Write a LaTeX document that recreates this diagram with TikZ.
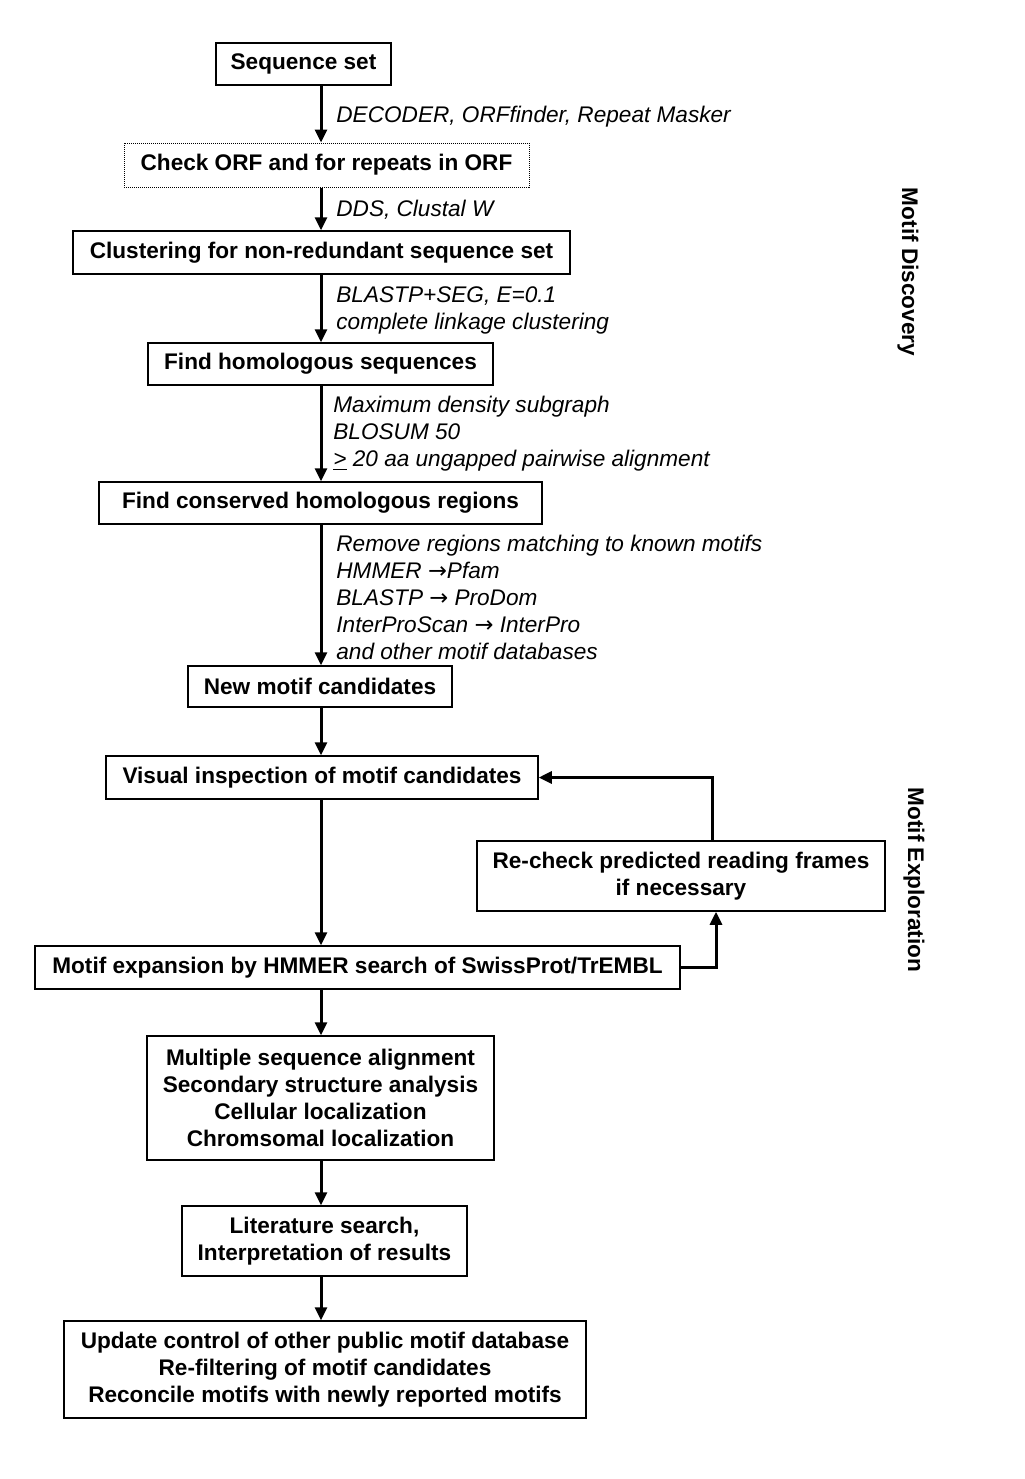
\documentclass[tikz,border=0pt]{standalone}
\usepackage{fontspec}
\setmainfont{Liberation Sans}
\newfontfamily\arrowfont{DejaVu Sans}
\newcommand{\rar}{{\arrowfont\itshape →}}
\usetikzlibrary{arrows.meta}
\begin{document}
\begin{tikzpicture}[x=0.5pt,y=-0.5pt,
 box/.style={draw,line width=0.75pt,inner sep=0pt,font=\fontsize{11.3}{13.5}\selectfont\bfseries,align=center},
 dotbox/.style={box,dash pattern=on 0.5pt off 0.5pt,line width=0.5pt},
 lbl/.style={font=\fontsize{11.3}{13.5}\selectfont\itshape,align=left,anchor=west,inner sep=0pt},
 flow/.style={line width=1.5pt,-{Triangle[length=6.5pt,width=6pt]}},
 side/.style={font=\fontsize{11.3}{12}\selectfont\bfseries,rotate=-90,inner sep=0pt}]
\fill[white] (0,0) rectangle (1024,1479);
\coordinate (ax) at (321,0);
\coordinate (fb1) at (716,0);
\coordinate (fb2) at (712,0);
\node[box,minimum width=87.5pt,minimum height=21pt] (n1) at (303.5,64) {Sequence set};
\node[dotbox,minimum width=202.5pt,minimum height=22pt] (n2) at (326.5,165) {Check ORF and for repeats in ORF};
\node[box,minimum width=248.5pt,minimum height=21.5pt] (n3) at (321.5,252.5) {Clustering for non-redundant sequence set};
\node[box,minimum width=172.5pt,minimum height=21pt] (n4) at (320.5,364) {Find homologous sequences};
\node[box,minimum width=221.5pt,minimum height=21pt] (n5) at (320.5,503) {Find conserved homologous regions};
\node[box,minimum width=132pt,minimum height=20.5pt] (n6) at (320,686.5) {New motif candidates};
\node[box,minimum width=216pt,minimum height=21.5pt] (n7) at (322,777.5) {Visual inspection of motif candidates};
\node[box,minimum width=204pt,minimum height=35pt] (n8) at (681,876) {Re-check predicted reading frames\\if necessary};
\node[box,minimum width=322.5pt,minimum height=21.5pt] (n9) at (357.5,967.5) {Motif expansion by HMMER search of SwissProt/TrEMBL};
\node[box,minimum width=173.5pt,minimum height=62pt] (n10) at (320.5,1098) {Multiple sequence alignment\\Secondary structure analysis\\Cellular localization\\Chromsomal localization};
\node[box,minimum width=142.5pt,minimum height=35pt] (n11) at (324.5,1241) {Literature search,\\Interpretation of results};
\node[box,minimum width=261pt,minimum height=48.5pt] (n12) at (325,1369.5) {Update control of other public motif database\\Re-filtering of motif candidates\\Reconcile motifs with newly reported motifs};
\node[lbl] (l1) at (336,117) {DECODER, ORFfinder, Repeat Masker};
\node[lbl] (l2) at (336,210) {DDS, Clustal W};
\node[lbl] (l3) at (336,310.5) {BLASTP+SEG, E=0.1\\complete linkage clustering};
\node[lbl] (l4) at (333,434) {Maximum density subgraph\\BLOSUM 50\\\underline{>} 20 aa ungapped pairwise alignment};
\node[lbl] (l5) at (336,597) {Remove regions matching to known motifs\\HMMER \rar Pfam\\BLASTP \rar\ ProDom\\InterProScan \rar\ InterPro\\and other motif databases};
\node[side] (s1) at (908,272) {Motif Discovery};
\node[side] (s2) at (914,880) {Motif Exploration};
\draw[flow] (n1.south -| ax) -- (n2.north -| ax);
\draw[flow] (n2.south -| ax) -- (n3.north -| ax);
\draw[flow] (n3.south -| ax) -- (n4.north -| ax);
\draw[flow] (n4.south -| ax) -- (n5.north -| ax);
\draw[flow] (n5.south -| ax) -- (n6.north -| ax);
\draw[flow] (n6.south -| ax) -- (n7.north -| ax);
\draw[flow] (n7.south -| ax) -- (n9.north -| ax);
\draw[flow] (n9.south -| ax) -- (n10.north -| ax);
\draw[flow] (n10.south -| ax) -- (n11.north -| ax);
\draw[flow] (n11.south -| ax) -- (n12.north -| ax);
\draw[flow] (n9.east) -| (n8.south -| fb1);
\draw[flow] (n8.north -| fb2) |- (n7.east);
\end{tikzpicture}
\end{document}
